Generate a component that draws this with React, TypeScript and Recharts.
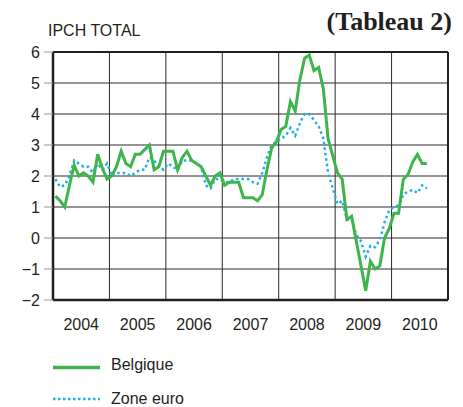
import React from 'react';
import { LineChart, Line, XAxis, YAxis, CartesianGrid, ReferenceLine } from 'recharts';

// monthly HICP, Jan 2004 -> Aug 2010
const belgique = [
  1.35, 1.2, 1.0, 1.7, 2.35, 2.0, 2.1, 2.0, 1.8, 2.7, 2.25, 1.9,
  2.0, 2.3, 2.8, 2.4, 2.3, 2.7, 2.7, 2.85, 3.0, 2.2, 2.3, 2.8,
  2.8, 2.8, 2.2, 2.6, 2.8, 2.5, 2.4, 2.3, 2.0, 1.7, 2.0, 2.1,
  1.7, 1.8, 1.8, 1.8, 1.3, 1.3, 1.3, 1.2, 1.4, 2.2, 2.9, 3.1,
  3.5, 3.6, 4.4, 4.1, 5.1, 5.8, 5.9, 5.4, 5.5, 4.8, 3.2, 2.65,
  2.1, 1.9, 0.6, 0.7, -0.1, -0.9, -1.7, -0.75, -1.0, -0.9, 0.0, 0.3,
  0.8, 0.8, 1.9, 2.05, 2.45, 2.7, 2.4, 2.4,
];

const zoneEuro = [
  1.9, 1.65, 1.7, 2.0, 2.5, 2.4, 2.3, 2.3, 2.1, 2.4, 2.2, 2.4,
  2.0, 2.1, 2.1, 2.1, 2.0, 2.1, 2.2, 2.2, 2.6, 2.5, 2.3, 2.2,
  2.4, 2.3, 2.2, 2.5, 2.5, 2.5, 2.4, 2.3, 1.7, 1.6, 1.9, 1.9,
  1.8, 1.8, 1.9, 1.9, 1.9, 1.9, 1.8, 1.75, 2.1, 2.6, 3.0, 3.1,
  3.2, 3.3, 3.55, 3.3, 3.7, 4.0, 4.0, 3.8, 3.6, 3.2, 2.1, 1.6,
  1.1, 1.2, 0.6, 0.6, 0.1, -0.1, -0.6, -0.25, -0.3, -0.05, 0.5, 0.9,
  1.0, 1.05, 1.4, 1.5, 1.55, 1.45, 1.7, 1.6,
];

const years = ['2004', '2005', '2006', '2007', '2008', '2009', '2010'];
const yearBounds = [0, 12, 24, 36, 48, 60, 72, 84];
const yTicks = [-2, -1, 0, 1, 2, 3, 4, 5, 6];

const data = belgique.map((v, i) => ({ t: i + 0.5, be: v, ez: zoneEuro[i] }));

const GREEN = '#3cb54a';
const BLUE = '#1fb0ea';
const INK = '#231f20';
const FONT = '"Liberation Sans", Arial, sans-serif';

const W = 463;
const H = 407;
const M = { top: 52, right: 15, left: 0, bottom: 77 };
const Y_W = 53;
const HALF_YEAR = (W - Y_W - M.right) / 14;

const YearTick = (props: any) => {
  const { x, y, payload } = props;
  const idx = payload.value / 12;
  if (idx >= years.length) return <g />;
  return (
    <text x={x + HALF_YEAR} y={y + 30} textAnchor="middle" fontSize={16} fill={INK} fontFamily={FONT}>
      {years[idx]}
    </text>
  );
};

export default function App() {
  return (
    <div style={{ position: 'absolute', left: 0, top: 0, width: W, height: H, background: '#fff', fontFamily: FONT }}>
      <div style={{ position: 'absolute', left: 48, top: 22, fontSize: 16, color: INK, lineHeight: '18px' }}>IPCH TOTAL</div>
      <div style={{ position: 'absolute', right: 11, top: 6, fontSize: 26, fontWeight: 'bold', color: INK, fontFamily: '"Liberation Serif", "DejaVu Serif", serif', lineHeight: '32px' }}>
        (Tableau 2)
      </div>
      <LineChart width={W} height={H} data={data} margin={M}>
        <CartesianGrid stroke="#2a2a2a" strokeWidth={1} />
        <XAxis
          dataKey="t"
          type="number"
          domain={[0, 84]}
          ticks={yearBounds}
          interval={0}
          height={30}
          axisLine={false}
          tickLine={false}
          tickSize={0}
          tickMargin={0}
          tick={<YearTick />}
        />
        <YAxis
          type="number"
          domain={[-2, 6]}
          ticks={yTicks}
          interval={0}
          width={Y_W}
          axisLine={false}
          tickSize={9}
          tickMargin={4}
          tickLine={{ stroke: '#999' }}
          tick={{ fontSize: 16, fill: INK, fontFamily: FONT }}
          tickFormatter={(v: number) => (v < 0 ? `\u2212${-v}` : String(v))}
        />
        <ReferenceLine y={6} stroke={INK} strokeWidth={2} />
        <ReferenceLine y={-2} stroke={INK} strokeWidth={2.5} />
        <ReferenceLine x={0} stroke={INK} strokeWidth={2.5} />
        <ReferenceLine x={84} stroke={INK} strokeWidth={2} />
        <Line type="linear" dataKey="ez" name="Zone euro" stroke={BLUE} strokeWidth={2.5} strokeDasharray="2.5 3" dot={false} isAnimationActive={false} />
        <Line type="linear" dataKey="be" name="Belgique" stroke={GREEN} strokeWidth={3} dot={false} isAnimationActive={false} />
      </LineChart>
      <svg style={{ position: 'absolute', left: 0, top: 0 }} width={W} height={H}>
        <line x1={53} x2={100} y1={367.5} y2={367.5} stroke={GREEN} strokeWidth={3.5} />
        <line x1={53} x2={100} y1={399} y2={399} stroke={BLUE} strokeWidth={2.5} strokeDasharray="2.5 2.5" />
        <text x={111} y={370} fontSize={16} fill={INK} fontFamily={FONT}>Belgique</text>
        <text x={111} y={404} fontSize={16} fill={INK} fontFamily={FONT}>Zone euro</text>
      </svg>
    </div>
  );
}
